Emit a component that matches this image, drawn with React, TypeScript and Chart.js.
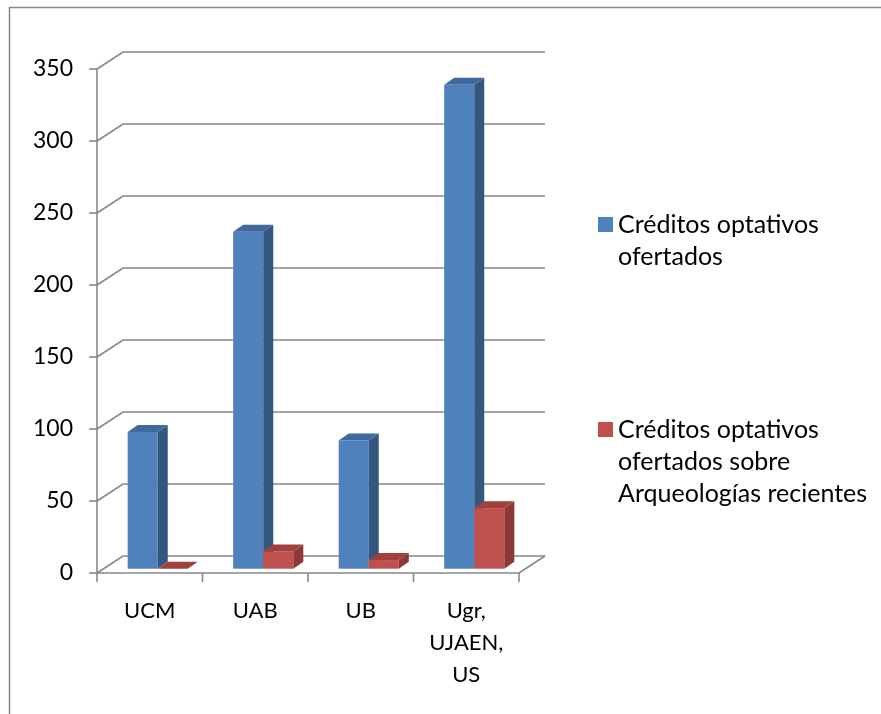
import React, { useEffect, useRef } from 'react';
import { Chart, registerables } from 'chart.js';

Chart.register(...registerables);

const categories: (string | string[])[] = ['UCM', 'UAB', 'UB', ['Ugr,', 'UJAEN,', 'US']];
const seriesNames = [
  'Créditos optativos ofertados',
  'Créditos optativos ofertados sobre Arqueologías recientes',
];
const legendLines = [
  ['Créditos optativos', 'ofertados'],
  ['Créditos optativos', 'ofertados sobre', 'Arqueologías recientes'],
];
const creditosOfertados = [95, 234, 89, 336];
const creditosArqueologias = [0, 12, 6, 42];
const yMin = 0;
const yMax = 350;
const yStep = 50;

const FRONT = ['#4F81BD', '#C0504D'];
const SIDE = ['#34577F', '#8B3836'];
const TOP = ['#3F6A9E', '#A1403D'];
const LINE = '#888888';
const FONT = 'Lato, "Open Sans", sans-serif';

const DX = 26; // wall depth
const DY = 17;
const SX = 8; // bar plane shift
const SY = -4.3;
const BX = 10; // bar depth
const BY = 7;

const threeD = {
  id: 'threeD',
  beforeDatasetsDraw(chart: any) {
    const { ctx, chartArea, scales } = chart;
    const { left, right, bottom } = chartArea;
    const y = scales.y;
    const x = scales.x;
    ctx.save();
    ctx.strokeStyle = LINE;
    ctx.lineWidth = 1.6;
    ctx.lineCap = 'butt';
    for (let v = yMin; v <= yMax; v += yStep) {
      const py = y.getPixelForValue(v);
      ctx.beginPath();
      ctx.moveTo(left, py);
      ctx.lineTo(left + DX, py - DY);
      ctx.lineTo(right + DX, py - DY);
      ctx.stroke();
      ctx.beginPath();
      ctx.moveTo(left - 8, py);
      ctx.lineTo(left, py);
      ctx.stroke();
    }
    ctx.beginPath();
    ctx.moveTo(left, bottom);
    ctx.lineTo(right, bottom);
    ctx.lineTo(right + DX, bottom - DY);
    ctx.stroke();
    ctx.beginPath();
    ctx.moveTo(left, y.getPixelForValue(yMax));
    ctx.lineTo(left, bottom);
    ctx.stroke();
    const n = categories.length;
    const cw = (right - left) / n;
    for (let i = 0; i <= n; i++) {
      const px = i < n ? x.getPixelForValue(i) - cw / 2 : x.getPixelForValue(n - 1) + cw / 2;
      ctx.beginPath();
      ctx.moveTo(px, bottom);
      ctx.lineTo(px, bottom + 9);
      ctx.stroke();
    }
    ctx.restore();
  },
  afterDatasetsDraw(chart: any) {
    const { ctx } = chart;
    ctx.save();
    const n = categories.length;
    for (let i = 0; i < n; i++) {
      for (let d = 0; d < chart.data.datasets.length; d++) {
        const meta = chart.getDatasetMeta(d);
        const el = meta.data[i];
        const p = el.getProps(['x', 'y', 'base', 'width'], true);
        const x0 = p.x - p.width / 2 + SX;
        const x1 = p.x + p.width / 2 + SX;
        const yt = p.y + SY;
        const yb = p.base + SY;
        const val = chart.data.datasets[d].data[i];
        if (val > 0) {
          ctx.fillStyle = FRONT[d];
          ctx.fillRect(x0, yt, x1 - x0, yb - yt);
          ctx.fillStyle = SIDE[d];
          ctx.beginPath();
          ctx.moveTo(x1, yb);
          ctx.lineTo(x1, yt);
          ctx.lineTo(x1 + BX, yt - BY);
          ctx.lineTo(x1 + BX, yb - BY);
          ctx.closePath();
          ctx.fill();
        }
        ctx.fillStyle = TOP[d];
        ctx.beginPath();
        ctx.moveTo(x0, yt);
        ctx.lineTo(x1, yt);
        ctx.lineTo(x1 + BX, yt - BY);
        ctx.lineTo(x0 + BX, yt - BY);
        ctx.closePath();
        ctx.fill();
      }
    }
    ctx.restore();
  },
  afterDraw(chart: any) {
    const { ctx } = chart;
    ctx.save();
    const legendTop = [225, 430];
    ctx.font = `25px ${FONT}`;
    ctx.textBaseline = 'middle';
    ctx.textAlign = 'left';
    legendLines.forEach((lines, d) => {
      const cy = legendTop[d];
      ctx.fillStyle = FRONT[d];
      ctx.fillRect(598, cy - 8, 15, 15);
      ctx.fillStyle = '#000000';
      lines.forEach((t, k) => ctx.fillText(t, 618, cy + k * 32));
    });
    ctx.strokeStyle = '#878787';
    ctx.lineWidth = 1.5;
    ctx.beginPath();
    ctx.moveTo(9.5, 900);
    ctx.lineTo(9.5, 7.5);
    ctx.lineTo(900, 7.5);
    ctx.stroke();
    ctx.restore();
  },
};

export default function App() {
  const ref = useRef<HTMLCanvasElement | null>(null);
  useEffect(() => {
    if (!ref.current) return;
    const chart = new Chart(ref.current, {
      type: 'bar',
      data: {
        labels: categories as any,
        datasets: [
          {
            label: seriesNames[0],
            data: creditosOfertados,
            backgroundColor: 'rgba(0,0,0,0)',
            barPercentage: 1,
            categoryPercentage: 0.57,
          },
          {
            label: seriesNames[1],
            data: creditosArqueologias,
            backgroundColor: 'rgba(0,0,0,0)',
            barPercentage: 1,
            categoryPercentage: 0.57,
          },
        ],
      },
      options: {
        responsive: false,
        animation: false,
        devicePixelRatio: 1,
        layout: { padding: { left: 0, top: 69, right: 362, bottom: 0 } },
        plugins: { legend: { display: false }, tooltip: { enabled: false } },
        scales: {
          x: {
            grid: { display: false, drawTicks: false },
            border: { display: false },
            ticks: {
              font: { family: FONT, size: 22, lineHeight: 1.45 },
              color: '#000000',
              padding: 22,
              maxRotation: 0,
              autoSkip: false,
            },
            afterFit: (s: any) => {
              s.height = 141;
            },
          },
          y: {
            min: yMin,
            max: yMax,
            grid: { display: false, drawTicks: false },
            border: { display: false },
            ticks: {
              stepSize: yStep,
              font: { family: FONT, size: 23 },
              color: '#000000',
              padding: 24,
            },
            afterFit: (s: any) => {
              s.width = 97;
            },
          },
        },
      },
      plugins: [threeD],
    });
    return () => chart.destroy();
  }, []);
  return (
    <div style={{ position: 'absolute', left: 0, top: 0, width: 881, height: 714, overflow: 'hidden', background: '#fff' }}>
      <canvas ref={ref} width={881} height={714} style={{ width: 881, height: 714, display: 'block' }} />
    </div>
  );
}
